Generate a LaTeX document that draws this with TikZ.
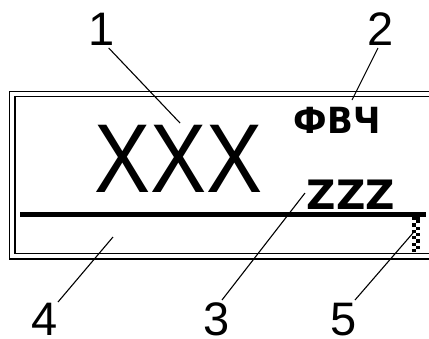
\documentclass[tikz,border=0pt]{standalone}
\usepackage{fontspec}
\setmainfont{Liberation Sans}
\newfontfamily\lcdfont{DejaVu Sans}
\usetikzlibrary{positioning}

\begin{document}
\begin{tikzpicture}[
  x=1pt, y=-1pt,
  frame/.style={draw, line width=1.4pt},
  bar/.style={line width=4.8pt},
  leader/.style={line width=1.1pt},
  num/.style={inner sep=0pt, anchor=base, font=\fontsize{47}{47}\selectfont},
  bigtxt/.style={inner sep=0pt, anchor=base west, font=\fontsize{97.8}{98}\selectfont},
  lcdbig/.style={inner sep=0pt, anchor=base west, font=\lcdfont\bfseries\fontsize{40.5}{41}\selectfont},
  lcdsmall/.style={inner sep=0pt, anchor=base west, font=\lcdfont\bfseries\fontsize{36}{37}\selectfont}
]
\clip (0,0) rectangle (429,338);
% double frame, open to the right
\draw[frame] (440,91.5) -| (9.5,259) -- (440,259);
\draw[frame] (440,96.5) -| (15,253.5) -- (440,253.5);
% display contents
\node[bigtxt] (main) at (94.5,192) {\scalebox{0.86}[1]{XXX}};
\node[lcdsmall] (mode) at (293.5,133) {\scalebox{0.94}[1]{ФВЧ}};
\node[lcdbig] (unit) at (306.5,209.5) {ZZZ};
\draw[bar] (20,214.8) -- (426,214.8);
% scroll marker
\fill (412,217) rectangle +(8.2,3.2);
\foreach \r in {1,3,...,9}
  \fill ({416},{217+\r*3.2}) rectangle +(4.2,3.2);
\foreach \r in {2,4,...,10}
  \fill ({412},{217+\r*3.2}) rectangle +(4.2,3.2);
\coordinate (scroll) at (413,233);
% callout numbers
\node[num] (n1) at (101.7,45) {1};
\node[num] (n2) at (380.5,45) {2};
\node[num] (n4) at (45,335.5) {4};
\node[num] (n3) at (216.5,335.5) {3};
\node[num] (n5) at (344,335.5) {5};
\coordinate (s1) at ([shift={(7,3)}]n1.base);
\coordinate (s2) at ([shift={(-2.5,3)}]n2.base);
\coordinate (s4) at ([shift={(13,-33.5)}]n4.base);
\coordinate (s3) at ([shift={(5.5,-35.5)}]n3.base);
\coordinate (s5) at ([shift={(11,-35.5)}]n5.base);
\coordinate (t1) at (180,123);
\coordinate (t2) at (352,100);
\coordinate (t4) at (113,237);
\coordinate (t3) at (305,193);
% leaders
\draw[leader] (s1) -- (t1);
\draw[leader] (s2) -- (t2);
\draw[leader] (s4) -- (t4);
\draw[leader] (s3) -- (t3);
\draw[leader] (s5) -- (scroll);
\end{tikzpicture}
\end{document}
